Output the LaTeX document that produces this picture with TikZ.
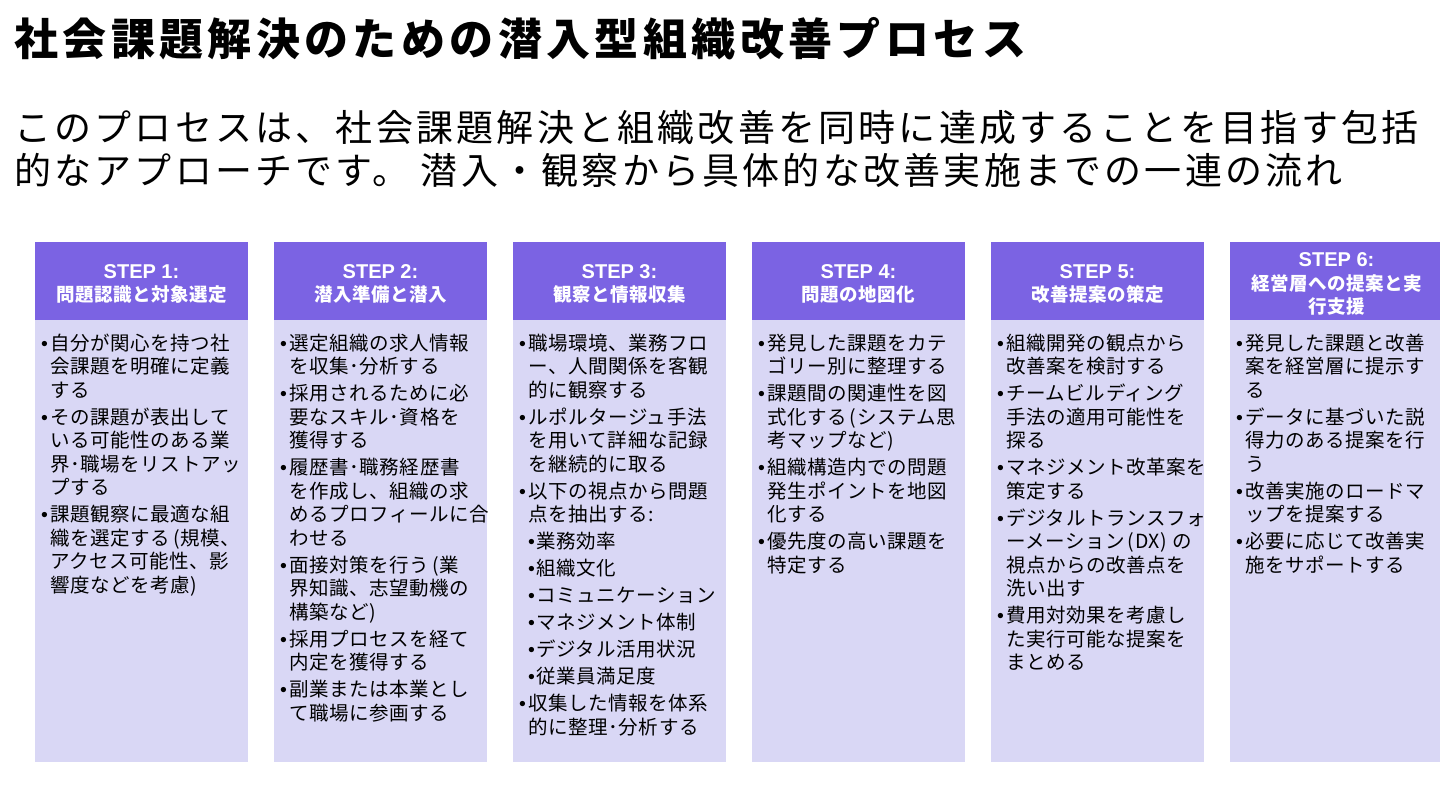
\documentclass[tikz,border=0pt]{standalone}
\usepackage{fontspec}
\setmainfont{Noto Sans CJK JP}
\newfontfamily\jpf{Noto Sans CJK JP}[LetterSpace=3]
\newfontfamily\hdf{Noto Sans CJK JP}[LetterSpace=3]
\newfontfamily\titlef{Noto Sans CJK JP}[LetterSpace=10]
\newfontfamily\subf{Noto Sans CJK JP}[LetterSpace=8.7]
\newfontfamily\latf{Liberation Sans}
\definecolor{hdr}{HTML}{7B63E3}
\definecolor{bdy}{HTML}{D9D7F5}
\newcommand\bi[1]{\par\vspace{3.5pt}\begingroup\let\\\newline\hangindent=9pt\hangafter=1\noindent\makebox[9pt][l]{\latf •}#1\par\endgroup}
\newcommand\si[1]{\par\vspace{3.5pt}\noindent\hspace*{9pt}\makebox[8pt][l]{\latf •}#1\par}
\newcommand\stp[1]{{\latf\bfseries\fontsize{20}{23.5}\selectfont #1}}
\newcommand\lp{\hspace{3pt}(}
\newcommand\rp{)\hspace{2pt}}
\begin{document}
\begin{tikzpicture}[x=1pt,y=-1pt,
  hdrbox/.style={fill=hdr, draw=none, minimum width=213, minimum height=78, inner sep=0},
  hdrtxt/.style={inner sep=0, text=white, align=center, font=\hdf\bfseries\fontsize{18.5}{23.5}\selectfont},
  bodybox/.style={fill=bdy, draw=none, minimum width=213, minimum height=442, inner sep=0},
  bodytxt/.style={anchor=north west, inner sep=0, text width=240, align=left, font=\jpf\fontsize{19.5}{23.5}\selectfont},
  titletxt/.style={anchor=west, inner sep=0, font=\titlef\bfseries\fontsize{44}{44}\selectfont},
  subtxt/.style={anchor=west, inner sep=0, font=\subf\fontsize{37}{43}\selectfont}]
\path[use as bounding box, fill=white] (0,0) rectangle (1440,810);

\node[titletxt] (title) at (14,39) {社会課題解決のための潜入型組織改善プロセス};
\node[subtxt] (sub1) at (14,127) {このプロセスは、社会課題解決と組織改善を同時に達成することを目指す包括};
\node[subtxt] (sub2) at (14,170) {的なアプローチです。 潜入・観察から具体的な改善実施までの一連の流れ};

% column 1
\node[bodybox] (b1) at (141.5,541) {};
\node[hdrbox] (h1) at (141.5,281) {};
\node[hdrtxt] (h1t) at (141.5,284) {\stp{STEP 1:}\\問題認識と対象選定};
\node[bodytxt] (t1) at (41,323) {%
\bi{自分が関心を持つ社\\会課題を明確に定義\\する}
\bi{その課題が表出して\\いる可能性のある業\\界･職場をリストアッ\\プする}
\bi{課題観察に最適な組\\織を選定する\lp 規模、\\アクセス可能性、影\\響度などを考慮\rp}};

% column 2
\node[bodybox] (b2) at (380.5,541) {};
\node[hdrbox] (h2) at (380.5,281) {};
\node[hdrtxt] (h2t) at (380.5,284) {\stp{STEP 2:}\\潜入準備と潜入};
\node[bodytxt] (t2) at (280,323) {%
\bi{選定組織の求人情報\\を収集･分析する}
\bi{採用されるために必\\要なスキル･資格を\\獲得する}
\bi{履歴書･職務経歴書\\を作成し、組織の求\\めるプロフィールに合\\わせる}
\bi{面接対策を行う\lp 業\\界知識、志望動機の\\構築など\rp}
\bi{採用プロセスを経て\\内定を獲得する}
\bi{副業または本業とし\\て職場に参画する}};

% column 3
\node[bodybox] (b3) at (619.5,541) {};
\node[hdrbox] (h3) at (619.5,281) {};
\node[hdrtxt] (h3t) at (619.5,284) {\stp{STEP 3:}\\観察と情報収集};
\node[bodytxt] (t3) at (519,323) {%
\bi{職場環境、業務フロ\\ー、人間関係を客観\\的に観察する}
\bi{ルポルタージュ手法\\を用いて詳細な記録\\を継続的に取る}
\bi{以下の視点から問題\\点を抽出する:}
\si{業務効率}
\si{組織文化}
\si{コミュニケーション}
\si{マネジメント体制}
\si{デジタル活用状況}
\si{従業員満足度}
\bi{収集した情報を体系\\的に整理･分析する}};

% column 4
\node[bodybox] (b4) at (858.5,541) {};
\node[hdrbox] (h4) at (858.5,281) {};
\node[hdrtxt] (h4t) at (858.5,284) {\stp{STEP 4:}\\問題の地図化};
\node[bodytxt] (t4) at (758,323) {%
\bi{発見した課題をカテ\\ゴリー別に整理する}
\bi{課題間の関連性を図\\式化する\lp システム思\\考マップなど\rp}
\bi{組織構造内での問題\\発生ポイントを地図\\化する}
\bi{優先度の高い課題を\\特定する}};

% column 5
\node[bodybox] (b5) at (1097.5,541) {};
\node[hdrbox] (h5) at (1097.5,281) {};
\node[hdrtxt] (h5t) at (1097.5,284) {\stp{STEP 5:}\\改善提案の策定};
\node[bodytxt] (t5) at (997,323) {%
\bi{組織開発の観点から\\改善案を検討する}
\bi{チームビルディング\\手法の適用可能性を\\探る}
\bi{マネジメント改革案を\\策定する}
\bi{デジタルトランスフォ\\ーメーション\lp DX\rp\,の\\視点からの改善点を\\洗い出す}
\bi{費用対効果を考慮し\\た実行可能な提案を\\まとめる}};

% column 6
\node[bodybox] (b6) at (1336.5,541) {};
\node[hdrbox] (h6) at (1336.5,281) {};
\node[hdrtxt] (h6t) at (1336.5,284) {\stp{STEP 6:}\\経営層への提案と実\\行支援};
\node[bodytxt] (t6) at (1236,323) {%
\bi{発見した課題と改善\\案を経営層に提示す\\る}
\bi{データに基づいた説\\得力のある提案を行\\う}
\bi{改善実施のロードマ\\ップを提案する}
\bi{必要に応じて改善実\\施をサポートする}};
\end{tikzpicture}
\end{document}
